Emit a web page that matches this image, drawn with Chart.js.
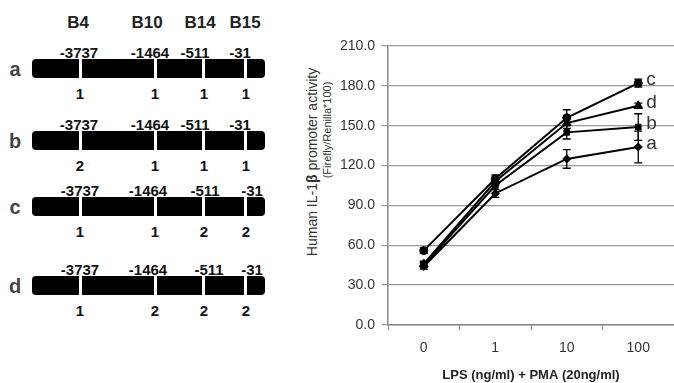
<!DOCTYPE html>
<html>
<head>
<meta charset="utf-8">
<script src="https://cdn.jsdelivr.net/npm/chart.js@4.4.0/dist/chart.umd.min.js"></script>
<style>
  html, body { margin: 0; padding: 0; background: #fff; overflow: hidden; }
  body { width: 674px; height: 383px; position: relative; font-family: "Liberation Sans", Arial, sans-serif; }
  .t { position: absolute; white-space: nowrap; transform: translate(-50%, -50%); color: #111; }
  .bar { position: absolute; background: #000; border-radius: 4px; }
  .sep { position: absolute; background: #fff; width: 3px; }
  .ytitle { position: absolute; white-space: nowrap; transform: translate(-50%, -50%) rotate(-90deg); color: #333; }
  #wrap { position: absolute; left: 330px; top: 0; width: 350px; height: 383px; }
</style>
</head>
<body>
<div id="diagram"></div>
<div class="ytitle" style="left:312px; top:162px; font-size:14px;">Human IL-1<b>β</b> promoter activity</div>
<div class="ytitle" style="left:327px; top:130px; font-size:11px;">(Firefly/Renilla*100)</div>
<div id="wrap"><canvas id="chart" width="350" height="383"></canvas></div>
<script>
// haplotype diagram data
const snpNames = ['B4', 'B10', 'B14', 'B15'];
const snpPositions = ['-3737', '-1464', '-511', '-31'];
const haplotypes = ['a', 'b', 'c', 'd'];
const alleles = [
  [1, 1, 1, 1],
  [2, 1, 1, 1],
  [1, 1, 2, 2],
  [1, 2, 2, 2]
];

// chart data
const doses = ['0', '1', '10', '100'];
const seriesA = [44, 99, 125, 134];
const seriesB = [45, 105, 145, 149];
const seriesC = [56, 110, 156, 182];
const seriesD = [46, 108, 152, 165];
const errA = [2, 3, 7, 12];
const errB = [2, 3, 5, 10];
const errC = [2, 3, 6, 3];
const errD = [2, 3, 4, 2];

// draw the diagram
const diagram = document.getElementById('diagram');
const headerX = [78, 147, 200, 245];
const sepX = [80, 155, 203, 245];
const rowTop = [59, 131, 197, 276];
const posLabelX = [[79, 150, 195, 240], [79, 150, 195, 240], [80, 148, 205, 252], [80, 148, 209, 252]];
const alleleX = [80, 155, 204, 246];

function addText(txt, x, y, style) {
  const d = document.createElement('div');
  d.className = 't';
  d.textContent = txt;
  d.style.left = x + 'px';
  d.style.top = y + 'px';
  Object.assign(d.style, style);
  diagram.appendChild(d);
}

snpNames.forEach((n, i) => addText(n, headerX[i], 23, { fontSize: '17px', fontWeight: 'bold', color: '#222' }));

haplotypes.forEach((h, r) => {
  const top = rowTop[r];
  addText(h, 15, top + 10, { fontSize: '20px', fontWeight: 'bold', color: '#444' });
  const bar = document.createElement('div');
  bar.className = 'bar';
  bar.style.left = '32px';
  bar.style.top = top + 'px';
  bar.style.width = '233px';
  bar.style.height = '19px';
  diagram.appendChild(bar);
  sepX.forEach(x => {
    const s = document.createElement('div');
    s.className = 'sep';
    s.style.left = (x - 1.5) + 'px';
    s.style.top = top + 'px';
    s.style.height = '19px';
    diagram.appendChild(s);
  });
  snpPositions.forEach((p, i) => addText(p, posLabelX[r][i], top - 7, { fontSize: '15px', fontWeight: 'bold' }));
  alleles[r].forEach((a, i) => addText(String(a), alleleX[i], top + 34, { fontSize: '15px', fontWeight: 'bold' }));
});

// error bars and series letters
const extras = {
  id: 'extras',
  afterDatasetsDraw(chart) {
    const ctx = chart.ctx;
    const x = chart.scales.x, y = chart.scales.y;
    ctx.save();
    chart.data.datasets.forEach(ds => {
      ctx.strokeStyle = '#000';
      ctx.lineWidth = 1.3;
      ds.data.forEach((v, i) => {
        const px = x.getPixelForValue(i);
        const top = y.getPixelForValue(v + ds.err[i]);
        const bot = y.getPixelForValue(v - ds.err[i]);
        ctx.beginPath();
        ctx.moveTo(px, top); ctx.lineTo(px, bot);
        ctx.moveTo(px - 4, top); ctx.lineTo(px + 4, top);
        ctx.moveTo(px - 4, bot); ctx.lineTo(px + 4, bot);
        ctx.stroke();
      });
      const last = ds.data.length - 1;
      ctx.fillStyle = '#333';
      ctx.font = '19px "Liberation Sans", Arial';
      ctx.textBaseline = 'middle';
      ctx.fillText(ds.label, x.getPixelForValue(last) + 8, y.getPixelForValue(ds.data[last]) - 3);
    });
    ctx.restore();
  }
};

function series(label, data, err, style) {
  return {
    label, data, err,
    borderColor: '#000', backgroundColor: '#000',
    borderWidth: 2, pointStyle: style,
    pointRadius: style === 'triangle' ? 5 : 4,
    pointBorderWidth: 1, tension: 0
  };
}

new Chart(document.getElementById('chart'), {
  type: 'line',
  data: {
    labels: doses,
    datasets: [
      series('a', seriesA, errA, 'rectRot'),
      series('b', seriesB, errB, 'rect'),
      series('c', seriesC, errC, 'circle'),
      series('d', seriesD, errD, 'triangle')
    ]
  },
  options: {
    responsive: false,
    animation: false,
    devicePixelRatio: 1,
    layout: { padding: { top: 46, right: 0, bottom: 0, left: 0 } },
    plugins: { legend: { display: false }, tooltip: { enabled: false } },
    scales: {
      x: {
        type: 'category',
        offset: true,
        grid: { offset: true, drawOnChartArea: false, drawTicks: true, tickLength: 5, color: '#888' },
        border: { color: '#888', width: 1.5 },
        ticks: { color: '#333', font: { size: 14, family: '"Liberation Sans", Arial' }, padding: 10 },
        title: { display: true, text: 'LPS (ng/ml) + PMA (20ng/ml)', color: '#222',
                 font: { size: 13, weight: 'bold', family: '"Liberation Sans", Arial' }, padding: { top: 10, bottom: 0 } },
        afterFit(scale) { scale.height = 58; }
      },
      y: {
        min: 0, max: 210,
        grid: { color: '#999', lineWidth: 1.3, tickLength: 6 },
        border: { color: '#888', width: 1.5 },
        ticks: { stepSize: 30, color: '#333', padding: 7,
                 font: { size: 14, family: '"Liberation Sans", Arial' },
                 callback: v => v.toFixed(1) },
        afterFit(scale) { scale.width = 58; }
      }
    }
  },
  plugins: [extras]
});
</script>
</body>
</html>
